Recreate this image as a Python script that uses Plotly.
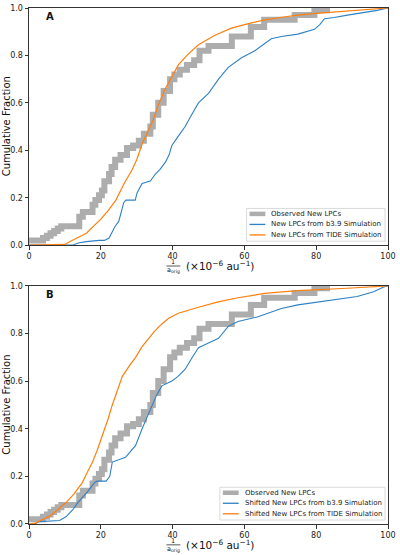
import plotly.graph_objects as go

# ---------------- data ----------------
obs_x = [0, 3.9, 5, 6, 7, 8, 9, 14, 15, 17.7, 18.5, 19.5, 20.3, 21, 22.3, 23, 24, 25.5, 27.3, 29,
         30.6, 32, 33.8, 34.5, 36, 37.5, 39.3, 40.5, 42, 44, 46, 47.5, 50, 56.5, 61.8, 65.5, 74, 79.5, 83]
obs_y = [0.02, 0.03, 0.04, 0.05, 0.06, 0.07, 0.08, 0.12, 0.14, 0.17, 0.19, 0.21, 0.23, 0.27, 0.30, 0.33,
         0.36, 0.38, 0.41, 0.42, 0.44, 0.47, 0.50, 0.55, 0.60, 0.65, 0.70, 0.72, 0.74, 0.76, 0.78, 0.82,
         0.84, 0.88, 0.92, 0.95, 0.97, 0.99, 1.0]

b39A_x = [0, 12, 14, 16, 19.5, 21, 22.3, 23.2, 24, 25, 26.4, 27, 29.6, 30.1, 31.5, 33.8, 35.2, 36.5,
          38, 39, 39.8, 41.6, 43.5, 45.3, 47.2, 50, 52.8, 55.5, 56.4, 59.2, 62.9, 67.5, 70.3, 74.9,
          79.5, 81, 82.3, 85, 88.7, 93.4, 97, 100]
b39A_y = [0, 0, 0.01, 0.015, 0.02, 0.02, 0.03, 0.06, 0.08, 0.1, 0.18, 0.19, 0.19, 0.22, 0.26, 0.27,
          0.3, 0.32, 0.35, 0.38, 0.42, 0.46, 0.5, 0.55, 0.6, 0.64, 0.7, 0.75, 0.76, 0.79, 0.82, 0.87,
          0.88, 0.89, 0.91, 0.93, 0.955, 0.96, 0.97, 0.98, 0.99, 1.0]

tideA_x = [0, 9.9, 12, 14, 16, 18, 20, 22, 24.2, 26.5, 28.8, 30, 31.6, 34.4, 36, 38, 40, 41.6, 44,
           47.2, 51.8, 56.4, 60, 65.6, 70, 74.8, 80, 84, 90, 95, 100]
tideA_y = [0, 0.003, 0.02, 0.035, 0.05, 0.08, 0.11, 0.145, 0.19, 0.26, 0.32, 0.36, 0.43, 0.52, 0.59,
           0.66, 0.717, 0.76, 0.80, 0.845, 0.885, 0.915, 0.93, 0.95, 0.96, 0.97, 0.977, 0.982, 0.99,
           0.995, 1.0]

b39B_x = [0, 1.5, 3, 8.5, 10.3, 12.2, 13.6, 16, 18.3, 19, 21.5, 22.5, 23.2, 25, 26.9, 28, 29.7, 31.5,
          33, 34.3, 35.5, 37, 39.8, 41.5, 43.5, 45.5, 47.2, 50, 52.8, 55.5, 58.2, 63.8, 70.3, 74.9,
          84, 91.4, 96, 98.8, 100]
b39B_y = [0, 0, 0.01, 0.015, 0.03, 0.06, 0.09, 0.13, 0.175, 0.18, 0.18, 0.2, 0.26, 0.27, 0.28, 0.3,
          0.33, 0.40, 0.45, 0.495, 0.54, 0.58, 0.6, 0.62, 0.65, 0.7, 0.74, 0.76, 0.78, 0.83, 0.85,
          0.87, 0.905, 0.92, 0.94, 0.955, 0.975, 0.995, 1.0]

tideB_x = [0, 2, 3.9, 6, 8, 10.3, 12.5, 14.9, 16, 17.7, 19, 20.4, 22, 23.2, 24.5, 26, 28, 29.7, 31.5,
           33.4, 35, 37, 39, 41.6, 44, 47.2, 52.7, 58.2, 65.6, 74.8, 88.6, 100]
tideB_y = [0, 0.005, 0.02, 0.035, 0.06, 0.09, 0.125, 0.175, 0.21, 0.26, 0.31, 0.37, 0.44, 0.5, 0.56,
           0.62, 0.665, 0.70, 0.745, 0.78, 0.81, 0.84, 0.865, 0.885, 0.897, 0.91, 0.933, 0.95, 0.968,
           0.98, 0.99, 1.0]

x_ticks = [0, 20, 40, 60, 80, 100]
y_ticks = [0.0, 0.2, 0.4, 0.6, 0.8, 1.0]
y_ticklabels = ["0.0", "0.2", "0.4", "0.6", "0.8", "1.0"]
panel_labels = ["A", "B"]
legend_A = ["Observed New LPCs", "New LPCs from b3.9 Simulation", "New LPCs from TIDE Simulation"]
legend_B = ["Observed New LPCs", "Shifted New LPCs from b3.9 Simulation",
            "Shifted New LPCs from TIDE Simulation"]
y_title = "Cumulative Fraction"

# ---------------- styling ----------------
W, H = 400, 555
ML, MR, MT, MB = 29, 8, 4, 31
PW, PH = W - ML - MR, H - MT - MB
FONT = "DejaVu Sans"
GRAY, BLUE, ORANGE = "#adadad", "#2f80c4", "#ff7f0e"


def px(xp):
    return (xp - ML) / PW


def py(yp):
    return (H - MB - yp) / PH


fig = go.Figure()

series = [
    ("x", "y", obs_x, obs_y, b39A_x, b39A_y, tideA_x, tideA_y),
    ("x2", "y2", obs_x, obs_y, b39B_x, b39B_y, tideB_x, tideB_y),
]
for xa, ya, ox, oy, bx, by, tx, ty in series:
    fig.add_trace(go.Scatter(x=ox, y=oy, mode="lines", line=dict(color=GRAY, width=6, shape="hv"),
                             xaxis=xa, yaxis=ya, showlegend=False, hoverinfo="skip"))
    fig.add_trace(go.Scatter(x=bx, y=by, mode="lines", line=dict(color=BLUE, width=1.1),
                             xaxis=xa, yaxis=ya, showlegend=False, hoverinfo="skip"))
    fig.add_trace(go.Scatter(x=tx, y=ty, mode="lines", line=dict(color=ORANGE, width=1.2),
                             xaxis=xa, yaxis=ya, showlegend=False, hoverinfo="skip"))

axis_common = dict(showline=True, mirror=True, linecolor="#333", linewidth=1, ticks="outside",
                   ticklen=3.5, tickwidth=0.8, tickcolor="#333", showgrid=False, zeroline=False,
                   tickfont=dict(family=FONT, size=8, color="#222"))

top_A, bot_A = 4, 243
top_B, bot_B = 284, 524
fig.update_layout(
    width=W, height=H, margin=dict(l=ML, r=MR, t=MT, b=MB),
    plot_bgcolor="white", paper_bgcolor="white", showlegend=False,
    xaxis=dict(domain=[0, 1], range=[0, 100], tickvals=x_ticks, anchor="y", **axis_common),
    yaxis=dict(domain=[py(bot_A), py(top_A)], range=[0, 1], tickvals=y_ticks, ticktext=y_ticklabels,
               anchor="x", **axis_common),
    xaxis2=dict(domain=[0, 1], range=[0, 100], tickvals=x_ticks, anchor="y2", **axis_common),
    yaxis2=dict(domain=[py(bot_B), py(top_B)], range=[0, 1], tickvals=y_ticks, ticktext=y_ticklabels,
                anchor="x2", **axis_common),
)

annotations = []
shapes = []
for i, (top, bot) in enumerate([(top_A, bot_A), (top_B, bot_B)]):
    # y title
    annotations.append(dict(text=y_title, xref="paper", yref="paper", x=px(6.5), y=py((top + bot) / 2),
                            textangle=-90, showarrow=False, xanchor="center", yanchor="middle",
                            font=dict(family=FONT, size=10, color="#111")))
    # panel label
    annotations.append(dict(text="<b>%s</b>" % panel_labels[i], xref="paper", yref="paper",
                            x=px(50.5), y=py(top + 9), showarrow=False, xanchor="center",
                            yanchor="middle", font=dict(family=FONT, size=10, color="#111")))
    # x title
    off = bot
    annotations.append(dict(text="1", xref="paper", yref="paper", x=px(175), y=py(off + 17),
                            showarrow=False, xanchor="center", yanchor="middle",
                            font=dict(family=FONT, size=6.5, color="#111")))
    annotations.append(dict(text="a<sub>orig</sub>", xref="paper", yref="paper", x=px(175.5),
                            y=py(off + 25.5), showarrow=False, xanchor="center", yanchor="middle",
                            font=dict(family=FONT, size=6.5, color="#111")))
    shapes.append(dict(type="line", xref="paper", yref="paper", x0=px(168), x1=px(182),
                       y0=py(off + 21), y1=py(off + 21), line=dict(color="#111", width=0.7)))
    annotations.append(dict(text="(\u00d710<sup>\u22126</sup> au<sup>\u22121</sup>)", xref="paper",
                            yref="paper", x=px(185.5), y=py(off + 20.5), showarrow=False,
                            xanchor="left", yanchor="middle",
                            font=dict(family=FONT, size=10.5, color="#111")))

# manual legends
legend_boxes = [
    (legend_A, 249, 389, 206, 239, 252, 268, 272),
    (legend_B, 222, 389, 487, 520, 225, 241, 245),
]
for labels, x0, x1, y0, y1, lx0, lx1, tx in legend_boxes:
    shapes.append(dict(type="rect", xref="paper", yref="paper", x0=px(x0), x1=px(x1), y0=py(y1),
                       y1=py(y0), line=dict(color="#d0d0d0", width=0.8), fillcolor="rgba(255,255,255,0.85)"))
    cols = [(GRAY, 4.5), (BLUE, 1.3), (ORANGE, 1.3)]
    for k, lab in enumerate(labels):
        yc = y0 + 5.5 + k * 10.6
        shapes.append(dict(type="line", xref="paper", yref="paper", x0=px(lx0), x1=px(lx1),
                           y0=py(yc), y1=py(yc), line=dict(color=cols[k][0], width=cols[k][1])))
        annotations.append(dict(text=lab, xref="paper", yref="paper", x=px(tx), y=py(yc),
                                showarrow=False, xanchor="left", yanchor="middle",
                                font=dict(family=FONT, size=7, color="#222")))

fig.update_layout(annotations=annotations, shapes=shapes)
fig.write_html("out.html")
